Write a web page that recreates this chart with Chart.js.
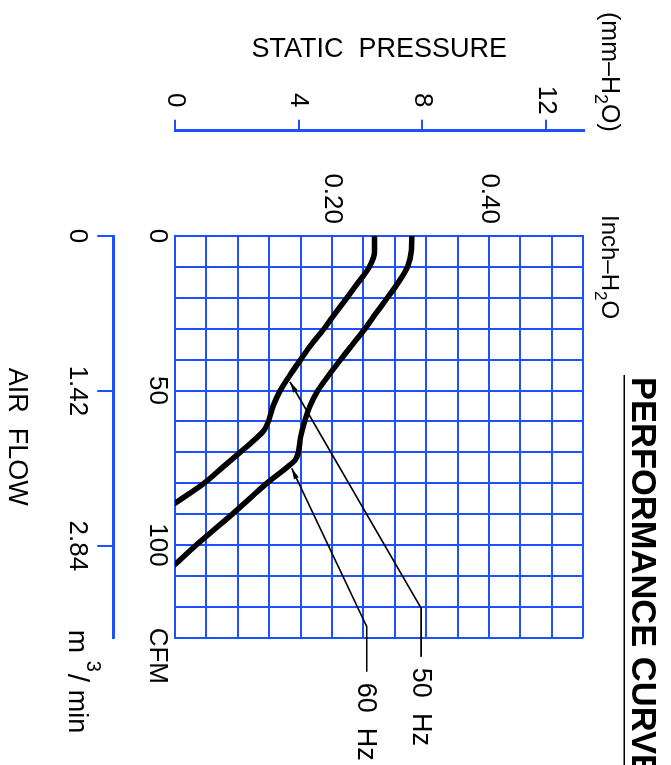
<!DOCTYPE html>
<html>
<head>
<meta charset="utf-8">
<script src="https://cdn.jsdelivr.net/npm/chart.js@4.4.1/dist/chart.umd.min.js"></script>
<style>
html, body { margin: 0; padding: 0; background: #fff; overflow: hidden; }
#wrap {
    position: absolute; left: 0; top: 0;
    width: 765px; height: 671px;
    transform-origin: 0 0;
    transform: translateX(671px) rotate(90deg);
}
canvas { display: block; }
</style>
</head>
<body>
<div id="wrap"><canvas id="chart" width="765" height="671"></canvas></div>
<script>
const BLUE = '#1e50ff'
const FONT = "'Liberation Sans', Arial, sans-serif"
const IN_TO_MM = 25.4
const CFM_TO_M3 = 0.0283168

// ── Data ─────────────────────────────────────────────────────────────────────
// air flow (CFM) against static pressure (inch-H2O)

const flow50 = [0, 5, 10, 15, 20, 25, 30, 35, 40, 45, 50, 55, 60, 63, 66, 70, 75, 80, 86.5]
const press50 = [0.254, 0.254, 0.2475, 0.2335, 0.219, 0.204, 0.19, 0.174, 0.16, 0.1465, 0.134, 0.125, 0.119, 0.113, 0.101, 0.083, 0.06, 0.037, 0]

const flow60 = [0, 5, 10, 15, 20, 25, 30, 35, 40, 45, 50, 55, 60, 65, 70, 72.5, 75, 80, 85, 90, 95, 100, 106.3]
const press60 = [0.3015, 0.301, 0.296, 0.2845, 0.2705, 0.256, 0.242, 0.2265, 0.211, 0.196, 0.182, 0.172, 0.165, 0.16, 0.157, 0.153, 0.142, 0.117, 0.095, 0.073, 0.05, 0.027, 0]

// leader lines: arrow tip, knee, end next to the label
const lead50Flow = [47.2, 120.5, 136.2]
const lead50Press = [0.1465, 0.3134, 0.3134]
const lead60Flow = [75.2, 126.4, 141]
const lead60Press = [0.1486, 0.2442, 0.2442]
const leadLabels = ['50  Hz', '60  Hz']

// scales
const cfmTicks = [0, 10, 20, 30, 40, 50, 60, 70, 80, 90, 100, 110, 120, 130]
const cfmLabels = [0, 50, 100]
const inchTicks = [0, 0.04, 0.08, 0.12, 0.16, 0.2, 0.24, 0.28, 0.32, 0.36, 0.4, 0.44, 0.48, 0.52]
const inchLabels = [0.2, 0.4]
const mmTicks = [0, 4, 8, 12]
const m3Ticks = [0, 1.42, 2.84]

const CFM_MAX = 130
const INCH_MAX = 0.52


// ── Helpers ──────────────────────────────────────────────────────────────────

const pts = (xs, ys) => xs.map((x, i) => ({ x, y: ys[i] }))
const setTicks = arr => scale => { scale.ticks = arr.map(v => ({ value: v })) }
const near = (arr, v) => arr.some(a => Math.abs(a - v) < 1e-6)

function drawParts(ctx, parts, x, y) {
    for (const [txt, size, dy] of parts) {
        ctx.font = `${size}px ${FONT}`
        ctx.fillText(txt, x, y + dy)
        x += ctx.measureText(txt).width
    }
}

const curve = data => ({
    data,
    borderColor: '#000',
    borderWidth: 5.5,
    borderCapStyle: 'round',
    borderJoinStyle: 'round',
    pointRadius: 0,
    cubicInterpolationMode: 'monotone',
    fill: false,
})

const leader = data => ({
    data,
    borderColor: '#000',
    borderWidth: 1.6,
    pointRadius: 0,
    tension: 0,
    fill: false,
    clip: false,
    isLeader: true,
})


// ── Extra texts, arrows ──────────────────────────────────────────────────────

const extras = {
    id: 'extras',
    afterDatasetsDraw(chart) {
        const { ctx } = chart
        ctx.save()
        ctx.fillStyle = '#000'
        let n = 0
        chart.data.datasets.forEach((ds, i) => {
            if (!ds.isLeader) return
            const p = chart.getDatasetMeta(i).data
            const tip = p[0], knee = p[1], end = p[2]
            const ang = Math.atan2(tip.y - knee.y, tip.x - knee.x)
            const L = 11, W = 2.6
            ctx.beginPath()
            ctx.moveTo(tip.x, tip.y)
            ctx.lineTo(tip.x - L * Math.cos(ang) + W * Math.sin(ang), tip.y - L * Math.sin(ang) - W * Math.cos(ang))
            ctx.lineTo(tip.x - L * Math.cos(ang) - W * Math.sin(ang), tip.y - L * Math.sin(ang) + W * Math.cos(ang))
            ctx.closePath()
            ctx.fill()

            ctx.font = `27px ${FONT}`
            ctx.textAlign = 'left'
            ctx.textBaseline = 'middle'
            ctx.fillText(leadLabels[n++], end.x + 11, end.y + 1)
        })
        ctx.restore()
    },
    afterDraw(chart) {
        const { ctx, chartArea: a, scales } = chart
        ctx.save()
        ctx.fillStyle = '#000'
        ctx.strokeStyle = '#000'
        ctx.textAlign = 'left'

        // title, runs off the right edge as in the drawing
        ctx.textBaseline = 'alphabetic'
        ctx.font = `bold 34.5px ${FONT}`
        ctx.fillText('PERFORMANCE CURVE', a.left + 141, a.top - 48.4)
        ctx.lineWidth = 1.6
        ctx.beginPath()
        ctx.moveTo(a.left + 139, a.top - 41)
        ctx.lineTo(chart.width, a.top - 41)
        ctx.stroke()

        // units
        drawParts(ctx, [['(mm–H', 25, 0], ['2', 18, 7], ['O)', 25, 0]], a.left - 224, a.top - 18.4)
        drawParts(ctx, [['Inch–H', 24, 0], ['2', 17, 7], ['O', 24, 0]], a.left - 21, a.top - 18.4)

        ctx.textBaseline = 'middle'
        ctx.font = `26px ${FONT}`
        ctx.fillText('CFM', a.right - 10, a.bottom + 2 + 15.6)

        const ym = scales.xM3.top + 16 + 5 + 15.6
        const xm = a.right - 8
        ctx.font = `28px ${FONT}`
        ctx.fillText('m', xm, ym)
        ctx.font = `20px ${FONT}`
        ctx.fillText('3', xm + 31, ym - 16)
        ctx.font = `30px ${FONT}`
        ctx.fillText('/', xm + 44, ym)
        ctx.font = `27px ${FONT}`
        ctx.fillText('min', xm + 60, ym)
        ctx.restore()
    }
}


// ── Chart ────────────────────────────────────────────────────────────────────

Chart.defaults.font.family = FONT
Chart.defaults.color = '#000'

const tickFont = { family: FONT, size: 26 }

new Chart(document.getElementById('chart'), {
    type: 'line',
    data: {
        datasets: [
            curve(pts(flow50, press50)),
            curve(pts(flow60, press60)),
            leader(pts(lead50Flow, lead50Press)),
            leader(pts(lead60Flow, lead60Press)),
        ]
    },
    options: {
        responsive: false,
        animation: false,
        events: [],
        layout: { padding: { left: 20, right: 127.3, top: 87.7, bottom: 0 } },
        plugins: { legend: { display: false }, tooltip: { enabled: false } },
        scales: {
            x: {
                type: 'linear', position: 'bottom', weight: 0,
                min: 0, max: CFM_MAX,
                afterBuildTicks: setTicks(cfmTicks),
                ticks: {
                    autoSkip: false, maxRotation: 0, padding: 2, font: tickFont,
                    callback: v => near(cfmLabels, v) ? String(v) : '',
                },
                grid: { color: BLUE, lineWidth: 2, drawTicks: false },
                border: { display: true, color: BLUE, width: 2 },
                afterFit: s => { s.height = 61.7 },
            },
            xM3: {
                type: 'linear', position: 'bottom', weight: 1,
                min: 0, max: CFM_MAX * CFM_TO_M3,
                afterBuildTicks: setTicks(m3Ticks),
                ticks: {
                    autoSkip: false, maxRotation: 0, padding: 5, font: tickFont,
                    callback: v => v === 0 ? '0' : v.toFixed(2),
                },
                grid: { display: true, drawOnChartArea: false, drawTicks: true, tickLength: 16, color: BLUE, lineWidth: 2 },
                border: { display: true, color: BLUE, width: 3 },
                title: { display: true, text: 'AIR  FLOW', font: { family: FONT, size: 27 }, padding: { top: 0, bottom: 0 } },
                afterFit: s => { s.height = 113.3 },
            },
            y: {
                type: 'linear', position: 'left', weight: 0,
                min: 0, max: INCH_MAX,
                afterBuildTicks: setTicks(inchTicks),
                ticks: {
                    autoSkip: false, padding: 12, font: tickFont,
                    callback: v => near(inchLabels, v) ? v.toFixed(2) : '',
                },
                grid: { color: BLUE, lineWidth: 2, drawTicks: false },
                border: { display: true, color: BLUE, width: 2 },
                afterFit: s => { s.width = 105.3 },
            },
            yMM: {
                type: 'linear', position: 'left', weight: 1,
                min: 0, max: INCH_MAX * IN_TO_MM,
                afterBuildTicks: setTicks(mmTicks),
                ticks: {
                    autoSkip: false, padding: 5, crossAlign: 'center', font: tickFont,
                    callback: v => String(v),
                },
                grid: { display: true, drawOnChartArea: false, drawTicks: true, tickLength: 11, color: BLUE, lineWidth: 2 },
                border: { display: true, color: BLUE, width: 3 },
                title: { display: true, text: 'STATIC  PRESSURE', font: { family: FONT, size: 27 }, padding: { top: 13, bottom: 0 } },
                afterFit: s => { s.width = 110.7 },
            },
        }
    },
    plugins: [extras]
})
</script>
</body>
</html>
